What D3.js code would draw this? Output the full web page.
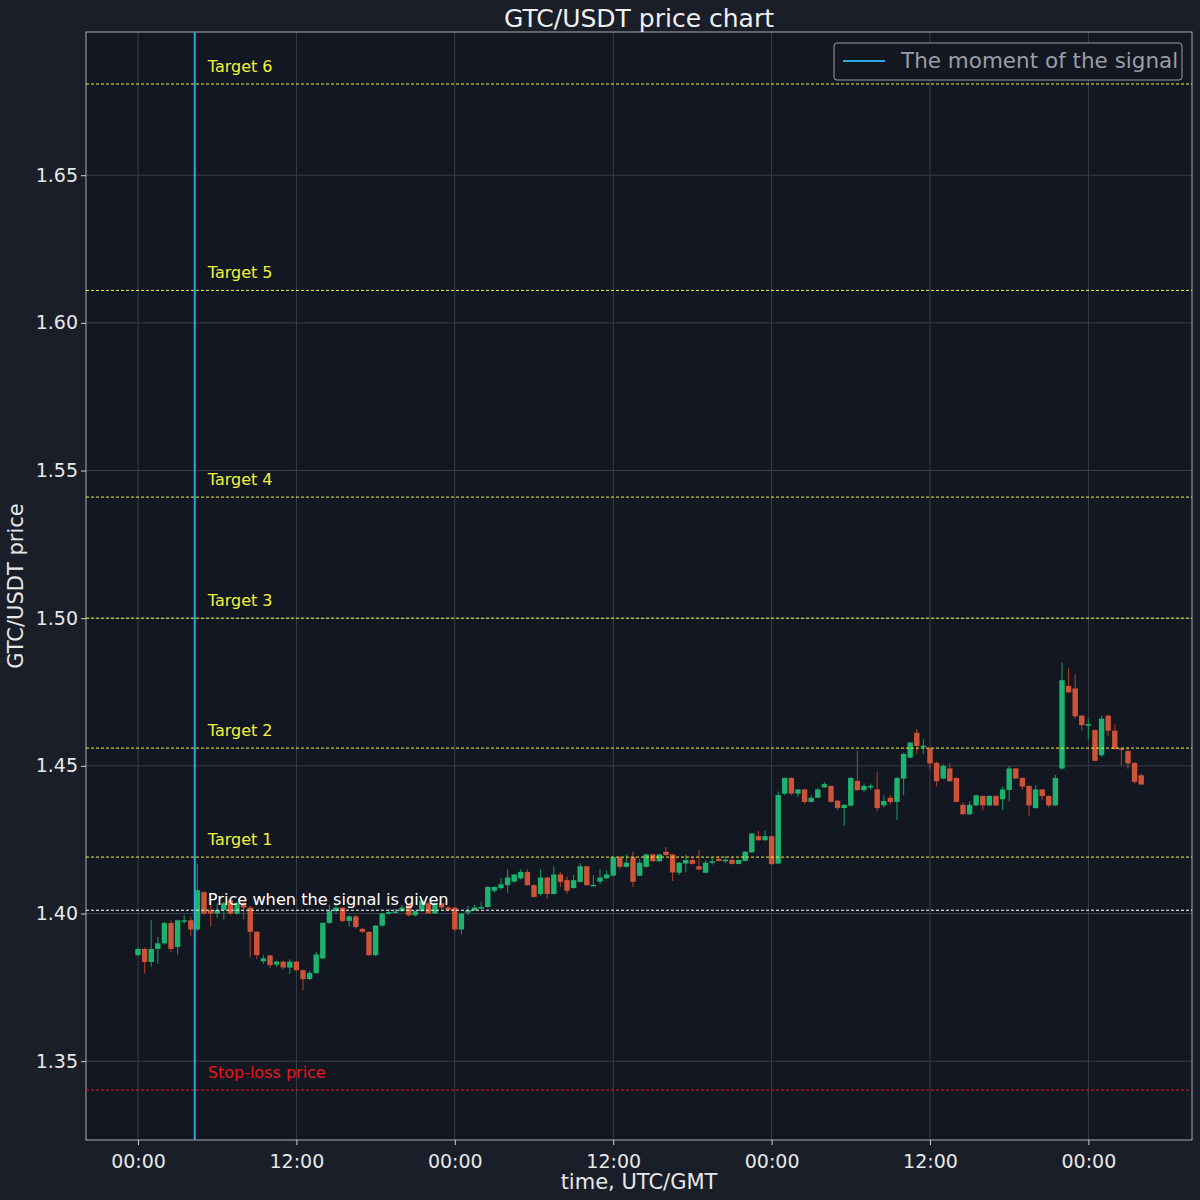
<!DOCTYPE html>
<html><head><meta charset="utf-8">
<script src="https://cdn.jsdelivr.net/npm/d3@7"></script>
<style>body{margin:0;background:#1a1e29;}text{font-family:"DejaVu Sans",sans-serif;}</style>
</head><body><svg id="c" width="1200" height="1200"></svg>
<script>
const opens=[1.3859,1.3880,1.3836,1.3880,1.3899,1.3968,1.3887,1.3975,1.3977,1.3946,1.4072,1.4010,1.4000,1.4012,1.4045,1.4000,1.4035,1.4020,1.3938,1.3838,1.3858,1.3827,1.3837,1.3817,1.3837,1.3808,1.3778,1.3799,1.3848,1.3968,1.4008,1.4020,1.3975,1.3990,1.3948,1.3938,1.3859,1.3959,1.4003,1.4005,1.4008,1.4030,1.3994,1.4008,1.4035,1.4000,1.4035,1.4020,1.4020,1.3946,1.4003,1.4011,1.4020,1.4022,1.4077,1.4086,1.4096,1.4108,1.4119,1.4141,1.4096,1.4066,1.4122,1.4066,1.4132,1.4113,1.4086,1.4107,1.4160,1.4095,1.4108,1.4119,1.4128,1.4190,1.4158,1.4190,1.4128,1.4158,1.4200,1.4177,1.4209,1.4200,1.4138,1.4169,1.4181,1.4160,1.4138,1.4175,1.4185,1.4180,1.4181,1.4168,1.4178,1.4207,1.4262,1.4248,1.4262,1.4169,1.4406,1.4459,1.4406,1.4420,1.4378,1.4392,1.4427,1.4432,1.4382,1.4357,1.4365,1.4449,1.4418,1.4428,1.4420,1.4366,1.4392,1.4378,1.4457,1.4528,1.4612,1.4566,1.4559,1.4510,1.4457,1.4491,1.4459,1.4368,1.4336,1.4366,1.4398,1.4366,1.4398,1.4387,1.4418,1.4491,1.4459,1.4432,1.4357,1.4420,1.4398,1.4366,1.4491,1.4771,1.4762,1.4670,1.4639,1.4621,1.4536,1.4670,1.4619,1.4559,1.4550,1.4510,1.4468];
const closes=[1.3880,1.3836,1.3880,1.3899,1.3968,1.3880,1.3977,1.3977,1.3946,1.4079,1.4000,1.4000,1.4012,1.4035,1.4000,1.4035,1.4020,1.3938,1.3859,1.3848,1.3825,1.3837,1.3817,1.3837,1.3808,1.3778,1.3799,1.3861,1.3968,1.4008,1.4020,1.3975,1.3990,1.3954,1.3938,1.3859,1.3959,1.4000,1.4005,1.4007,1.4020,1.3994,1.4008,1.4043,1.4000,1.4035,1.4020,1.4012,1.3946,1.4000,1.4011,1.4020,1.4022,1.4090,1.4090,1.4099,1.4122,1.4132,1.4141,1.4096,1.4056,1.4122,1.4066,1.4132,1.4107,1.4077,1.4113,1.4160,1.4096,1.4097,1.4122,1.4132,1.4190,1.4158,1.4172,1.4107,1.4172,1.4200,1.4177,1.4200,1.4198,1.4139,1.4172,1.4181,1.4168,1.4149,1.4172,1.4177,1.4178,1.4182,1.4168,1.4181,1.4209,1.4271,1.4248,1.4262,1.4167,1.4401,1.4459,1.4406,1.4420,1.4378,1.4392,1.4420,1.4438,1.4378,1.4357,1.4368,1.4459,1.4418,1.4432,1.4432,1.4357,1.4381,1.4378,1.4459,1.4540,1.4579,1.4567,1.4568,1.4508,1.4448,1.4500,1.4448,1.4378,1.4336,1.4368,1.4400,1.4366,1.4398,1.4366,1.4420,1.4491,1.4457,1.4430,1.4366,1.4420,1.4398,1.4366,1.4459,1.4790,1.4749,1.4668,1.4638,1.4641,1.4517,1.4660,1.4619,1.4557,1.4555,1.4508,1.4446,1.4437];
const highs=[1.3885,1.3885,1.3977,1.3920,1.3972,1.3977,1.3980,1.3995,1.3990,1.4169,1.4075,1.4040,1.4035,1.4040,1.4050,1.4040,1.4040,1.4025,1.3940,1.3860,1.3860,1.3840,1.3840,1.3845,1.3840,1.3810,1.3805,1.3870,1.3970,1.4030,1.4035,1.4022,1.3995,1.3995,1.3950,1.3940,1.3960,1.4002,1.4015,1.4015,1.4030,1.4032,1.4010,1.4045,1.4038,1.4038,1.4038,1.4025,1.4022,1.4002,1.4025,1.4030,1.4040,1.4092,1.4092,1.4120,1.4150,1.4135,1.4150,1.4150,1.4100,1.4150,1.4124,1.4160,1.4140,1.4125,1.4130,1.4170,1.4162,1.4130,1.4150,1.4145,1.4192,1.4195,1.4200,1.4210,1.4185,1.4202,1.4202,1.4202,1.4225,1.4202,1.4174,1.4200,1.4190,1.4215,1.4180,1.4190,1.4195,1.4195,1.4190,1.4183,1.4212,1.4273,1.4280,1.4280,1.4264,1.4413,1.4461,1.4461,1.4422,1.4422,1.4400,1.4425,1.4445,1.4434,1.4384,1.4370,1.4461,1.4551,1.4440,1.4440,1.4480,1.4400,1.4400,1.4462,1.4545,1.4580,1.4625,1.4590,1.4565,1.4515,1.4505,1.4510,1.4462,1.4375,1.4380,1.4402,1.4400,1.4400,1.4400,1.4430,1.4500,1.4493,1.4461,1.4434,1.4435,1.4422,1.4400,1.4470,1.4849,1.4830,1.4810,1.4672,1.4660,1.4623,1.4670,1.4672,1.4640,1.4560,1.4565,1.4512,1.4475];
const lows=[1.3855,1.3797,1.3820,1.3830,1.3895,1.3870,1.3860,1.3965,1.3925,1.3940,1.3995,1.3955,1.3985,1.3980,1.3995,1.3995,1.3980,1.3850,1.3845,1.3830,1.3815,1.3820,1.3810,1.3795,1.3805,1.3740,1.3775,1.3795,1.3845,1.3965,1.4000,1.3970,1.3955,1.3950,1.3935,1.3855,1.3855,1.3955,1.3995,1.4000,1.4005,1.3990,1.3990,1.4005,1.3998,1.3998,1.4015,1.4008,1.3940,1.3930,1.3995,1.4010,1.4015,1.4020,1.4070,1.4080,1.4070,1.4105,1.4115,1.4094,1.4054,1.4060,1.4050,1.4064,1.4090,1.4065,1.4084,1.4105,1.4094,1.4094,1.4100,1.4117,1.4126,1.4150,1.4156,1.4090,1.4126,1.4156,1.4175,1.4175,1.4196,1.4110,1.4130,1.4140,1.4166,1.4147,1.4136,1.4165,1.4176,1.4170,1.4166,1.4166,1.4176,1.4205,1.4246,1.4246,1.4165,1.4167,1.4400,1.4400,1.4395,1.4372,1.4376,1.4390,1.4425,1.4376,1.4350,1.4297,1.4362,1.4416,1.4410,1.4420,1.4345,1.4360,1.4370,1.4316,1.4400,1.4526,1.4540,1.4540,1.4490,1.4430,1.4455,1.4445,1.4376,1.4334,1.4334,1.4364,1.4350,1.4364,1.4364,1.4350,1.4380,1.4455,1.4420,1.4330,1.4355,1.4385,1.4360,1.4364,1.4488,1.4747,1.4660,1.4620,1.4590,1.4515,1.4530,1.4600,1.4555,1.4500,1.4490,1.4440,1.4435];
const stepHours=0.5;
const signalHour=4.3;
const signalPrice=1.4011;
const stopLoss=1.3402;
const targets=[1.4191,1.4560,1.5000,1.5410,1.6110,1.6809];
const targetNames=["Target 1","Target 2","Target 3","Target 4","Target 5","Target 6"];
const yTicks=[1.35,1.40,1.45,1.50,1.55,1.60,1.65];
const xTicks=[0,12,24,36,48,60,72];

const svg=d3.select("#c");
const L=86,R=1192,T=32,B=1140;
const x=d3.scaleLinear().domain([-3.94,79.85]).range([L,R]);
const y=d3.scaleLinear().domain([1.3233,1.6985]).range([B,T]);
svg.append("rect").attr("width",1200).attr("height",1200).attr("fill","#1a1e29");
svg.append("rect").attr("x",L).attr("y",T).attr("width",R-L).attr("height",B-T).attr("fill","#131722");
const g=svg.append("g");
g.selectAll(".gx").data(xTicks).join("line").attr("x1",d=>x(d)).attr("x2",d=>x(d)).attr("y1",T).attr("y2",B).attr("stroke","#3a3f4b").attr("stroke-width",1);
g.selectAll(".gy").data(yTicks).join("line").attr("y1",d=>y(d)).attr("y2",d=>y(d)).attr("x1",L).attr("x2",R).attr("stroke","#3a3f4b").attr("stroke-width",1);
const xa=svg.append("g").attr("transform",`translate(0,${B})`).call(d3.axisBottom(x).tickValues(xTicks).tickFormat(d=>String(d%24).padStart(2,"0")+":00").tickSizeOuter(0).tickSize(5));
const ya=svg.append("g").attr("transform",`translate(${L},0)`).call(d3.axisLeft(y).tickValues(yTicks).tickFormat(d3.format(".2f")).tickSizeOuter(0).tickSize(5));
[xa,ya].forEach(a=>{a.attr("font-size",19);a.selectAll("text").attr("fill","#e8e8e8").attr("font-size",19).style("font-family","DejaVu Sans");a.selectAll("line").attr("stroke","#d0d0d0");a.select(".domain").remove();});
xa.selectAll("text").attr("dy","1.05em");
svg.append("rect").attr("x",L).attr("y",T).attr("width",R-L).attr("height",B-T).attr("fill","none").attr("stroke","#d0d0d0").attr("stroke-width",0.8);

const data=opens.map((o,i)=>({t:i*stepHours,o,c:closes[i],h:highs[i],l:lows[i]}));
const up="#1db36e",dn="#cd5437";
const cg=svg.append("g");
cg.selectAll(".w").data(data).join("line").attr("x1",d=>x(d.t)).attr("x2",d=>x(d.t)).attr("y1",d=>y(d.h)).attr("y2",d=>y(d.l)).attr("stroke",d=>d.c>=d.o?"#138a52":"#9c3a26").attr("stroke-width",1.2);
cg.selectAll(".b").data(data).join("rect").attr("x",d=>x(d.t)-2.7).attr("width",5.4).attr("y",d=>y(Math.max(d.o,d.c))).attr("height",d=>Math.max(1.5,Math.abs(y(d.o)-y(d.c)))).attr("fill",d=>d.c>=d.o?up:dn);

function level(v,col,label){
  svg.append("line").attr("x1",L).attr("x2",R).attr("y1",y(v)).attr("y2",y(v)).attr("stroke",col).attr("stroke-width",1).attr("stroke-dasharray","3,2");
  svg.append("text").attr("x",x(signalHour)+13).attr("y",y(v)-12).attr("fill",col).attr("font-size",16).text(label);
}
targets.forEach((t,i)=>level(t,"#f2f23a",targetNames[i]));
level(stopLoss,"#e8161a","Stop-loss price");
svg.append("line").attr("x1",L).attr("x2",R).attr("y1",y(signalPrice)).attr("y2",y(signalPrice)).attr("stroke","#ffffff").attr("stroke-width",1).attr("stroke-dasharray","3,2");
svg.append("text").attr("x",x(signalHour)+13).attr("y",y(signalPrice)-5).attr("fill","#ffffff").attr("font-size",16.2).text("Price when the signal is given");
svg.append("line").attr("x1",x(signalHour)).attr("x2",x(signalHour)).attr("y1",T).attr("y2",B).attr("stroke","#29a8e0").attr("stroke-width",2);

svg.append("rect").attr("x",834).attr("y",43).attr("width",348).attr("height",37).attr("rx",3).attr("fill","#131722").attr("stroke","#9a9ea6");
svg.append("line").attr("x1",843).attr("x2",885).attr("y1",61).attr("y2",61).attr("stroke","#29a8e0").attr("stroke-width",2);
svg.append("text").attr("x",901).attr("y",68).attr("fill","#9a9ea6").attr("font-size",21.5).text("The moment of the signal");

svg.append("text").attr("x",639).attr("y",27).attr("text-anchor","middle").attr("fill","#f0f0f0").attr("font-size",25).text("GTC/USDT price chart");
svg.append("text").attr("x",639).attr("y",1189).attr("text-anchor","middle").attr("fill","#e8e8e8").attr("font-size",21).text("time, UTC/GMT");
svg.append("text").attr("transform","translate(23,586) rotate(-90)").attr("text-anchor","middle").attr("fill","#e8e8e8").attr("font-size",21).text("GTC/USDT price");
</script></body></html>
